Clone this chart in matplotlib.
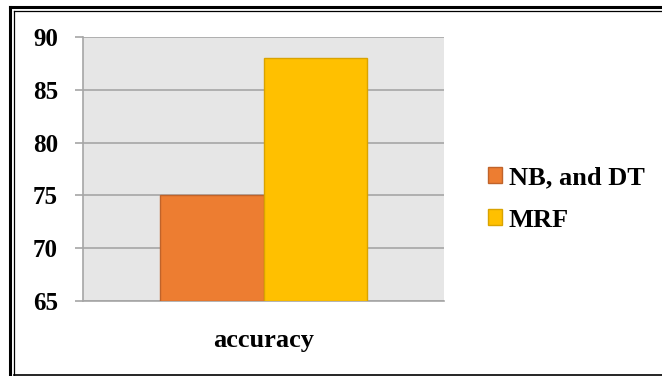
import matplotlib.pyplot as plt
from matplotlib.lines import Line2D

# Data
category = ['accuracy']
series = ['NB, and DT', 'MRF']
values = [75, 88]
colors = ['#ED7D31', '#FFC000']
edges = ['#C0632A', '#D9A300']
yticks = [65, 70, 75, 80, 85, 90]

W, H = 662, 376
fig = plt.figure(figsize=(W / 100, H / 100), dpi=100)
ax = fig.add_axes([83 / W, 1 - 301 / H, 361 / W, 264 / H])

font = {'family': 'Liberation Serif', 'weight': 'bold'}

bar_width = 0.287
offsets = [-bar_width / 2, bar_width / 2]
for i in range(len(series)):
    ax.bar(0 + offsets[i], values[i] - 65, bottom=65, width=bar_width,
           color=colors[i], edgecolor=edges[i], linewidth=1, label=series[i], zorder=3)

ax.set_xlim(-0.5, 0.5)
ax.set_ylim(65, 90)
ax.set_facecolor('#E6E6E6')
ax.set_yticks(yticks)
ax.yaxis.grid(True, color='#A6A6A6', linewidth=1.2, zorder=0)
ax.set_axisbelow(True)
for s in ['top', 'right']:
    ax.spines[s].set_visible(False)
ax.spines['left'].set_color('#A6A6A6')
ax.spines['bottom'].set_color('#A6A6A6')
ax.spines['left'].set_linewidth(1.2)
ax.spines['bottom'].set_linewidth(1.2)
ax.tick_params(axis='y', length=6, width=1.2, color='#A6A6A6', pad=12)
ax.set_xticks([0])
ax.set_xticklabels(category)
ax.tick_params(axis='x', length=0, pad=20)
for lbl in ax.get_yticklabels():
    lbl.set_fontproperties(font)
    lbl.set_fontsize(18)
    lbl.set_color('black')
for lbl in ax.get_xticklabels():
    lbl.set_fontproperties(font)
    lbl.set_fontsize(19)
    lbl.set_color('black')

handles = [plt.Rectangle((0, 0), 1, 1, facecolor=colors[i], edgecolor=edges[i]) for i in range(2)]
leg = fig.legend(handles, series, loc='upper left', bbox_to_anchor=(464 / W, 1 - 143 / H),
                 frameon=False, prop={'family': 'Liberation Serif', 'weight': 'bold', 'size': 19},
                 handlelength=0.55, handleheight=0.55, handletextpad=0.25, labelspacing=0.72)

# double frame
fig.add_artist(Line2D([10 / W, 10 / W], [0, 1 - 7 / H], transform=fig.transFigure, color='black', linewidth=2.2))
fig.add_artist(Line2D([13.5 / W, 13.5 / W], [0, 1 - 10.5 / H], transform=fig.transFigure, color='black', linewidth=0.9))
fig.add_artist(Line2D([10 / W, 1], [1 - 7 / H, 1 - 7 / H], transform=fig.transFigure, color='black', linewidth=2.2))
fig.add_artist(Line2D([13.5 / W, 1], [1 - 10.5 / H, 1 - 10.5 / H], transform=fig.transFigure, color='black', linewidth=0.9))
fig.add_artist(Line2D([13.5 / W, 1], [1.2 / H, 1.2 / H], transform=fig.transFigure, color='black', linewidth=1.2))

fig.savefig('out.png', dpi=100)
